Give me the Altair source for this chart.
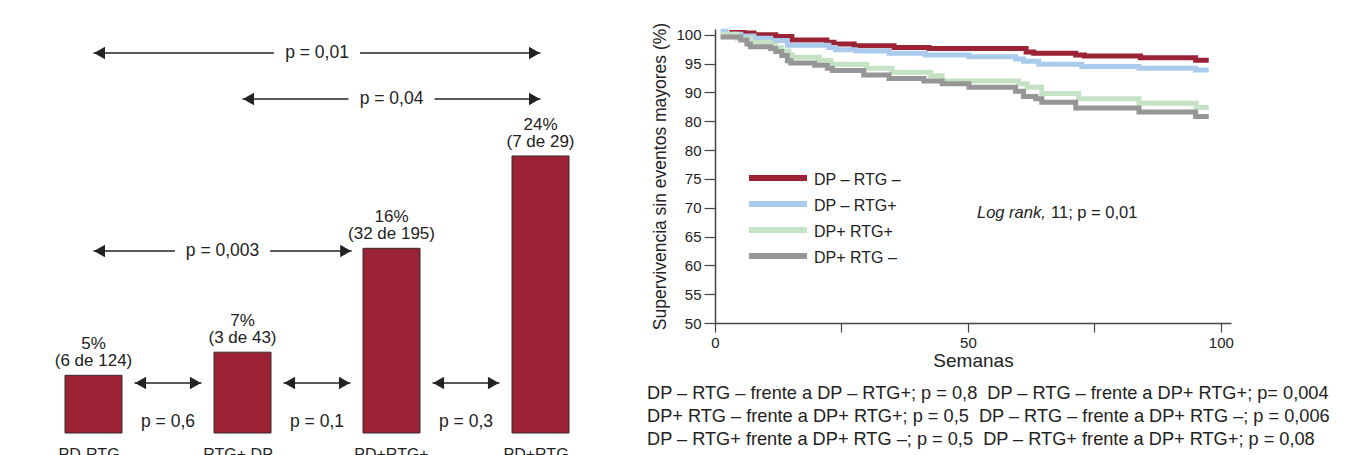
import altair as alt
import pandas as pd

# ---------------- data: left panel (bars) ----------------
categories = ["PD-RTG–", "RTG+ DP–", "PD+RTG+", "PD+RTG–"]
event_pct = [5, 7, 16, 24]
pct_labels = ["5%", "7%", "16%", "24%"]
count_labels = ["(6 de 124)", "(3 de 43)", "(32 de 195)", "(7 de 29)"]
neighbour_p = ["p = 0,6", "p = 0,1", "p = 0,3"]
long_from = ["PD-RTG–", "RTG+ DP–", "PD-RTG–"]
long_to = ["PD+RTG–", "PD+RTG–", "PD+RTG+"]
long_p = ["p = 0,01", "p = 0,04", "p = 0,003"]

# ---------------- data: right panel (survival curves) ----------------
series_names = ["DP – RTG –", "DP – RTG+", "DP+ RTG+", "DP+ RTG –"]
series_colors = ["#9b2335", "#aacbec", "#c5e3c4", "#969696"]

red_weeks = [2.8, 5.7, 7.7, 12.0, 15.2, 22.1, 23.5, 27.5, 35.4, 42.3, 61.5, 63.0, 71.3, 73.0, 84.1, 95.0, 97.6]
red_surv = [100.4, 100.3, 100.0, 99.7, 99.1, 98.7, 98.4, 98.1, 97.8, 97.6, 97.0, 96.8, 96.5, 96.3, 96.0, 95.6, 95.6]
blue_weeks = [1.1, 2.1, 5.1, 7.7, 11.0, 14.3, 22.5, 23.8, 27.8, 34.4, 41.6, 50.2, 59.4, 61.0, 64.0, 72.5, 83.8, 95.0, 97.6]
blue_surv = [100.6, 100.1, 99.8, 99.4, 99.0, 98.2, 97.8, 97.4, 97.2, 96.8, 96.5, 96.2, 95.8, 95.4, 94.9, 94.5, 94.2, 93.9, 93.9]
green_weeks = [1.1, 4.3, 7.1, 11.0, 12.0, 13.2, 14.6, 15.3, 20.6, 22.9, 30.0, 35.0, 42.6, 44.9, 60.0, 61.7, 64.6, 71.9, 83.8, 95.1, 97.6]
green_surv = [100.1, 99.4, 98.7, 98.2, 97.8, 97.2, 96.5, 96.1, 95.6, 94.9, 94.2, 93.5, 92.9, 92.0, 91.5, 90.9, 89.8, 88.9, 88.1, 87.4, 87.4]
gray_weeks = [1.1, 5.1, 6.3, 7.0, 11.0, 12.0, 13.2, 14.3, 15.0, 19.7, 22.2, 23.2, 29.4, 34.4, 41.3, 44.9, 50.2, 59.4, 61.0, 63.4, 64.6, 71.3, 83.8, 95.0, 97.6]
gray_surv = [99.6, 99.1, 98.4, 97.9, 97.6, 97.1, 96.4, 95.5, 95.1, 94.7, 94.2, 93.8, 93.0, 92.4, 92.0, 91.5, 90.9, 90.2, 89.3, 88.9, 88.3, 87.3, 86.6, 85.8, 85.8]

y_tick_values = [50, 55, 60, 65, 70, 75, 80, 85, 90, 95, 100]
y_tick_labels = ["50", "55", "60", "65", "70", "75", "80", "80", "90", "95", "100"]
x_tick_values = [0, 25, 50, 75, 100]
x_tick_labels = ["0", "", "50", "", "100"]

log_rank_italic = "Log rank,"
log_rank_rest = "11; p = 0,01"
comparison_lines = [
    "DP – RTG – frente a DP – RTG+; p = 0,8 \u00a0DP – RTG – frente a DP+ RTG+; p= 0,004",
    "DP+ RTG – frente a DP+ RTG+; p = 0,5 \u00a0DP – RTG – frente a DP+ RTG –; p = 0,006",
    "DP – RTG+ frente a DP+ RTG –; p = 0,5 \u00a0DP – RTG+ frente a DP+ RTG+; p = 0,08",
]

# ---------------- styling / layout ----------------
FONT = "Liberation Sans"
BAR_RED = "#9b2335"
INK = "#222222"
AX = "#444444"

LW, LH = 606, 404
UNIT = LW / 4.0            # pixels per category slot
BAR_W = 57
xs_left = alt.Scale(domain=[0, 4], nice=False, zero=False)
ys_left = alt.Scale(domain=[0, 35], nice=False)
PX_PER_PCT = LH / 35.0


def lvl(px_above_axis):
    return px_above_axis / PX_PER_PCT


idx = {c: i for i, c in enumerate(categories)}
bars_df = pd.DataFrame({
    "cat": categories,
    "pos": [i + 0.5 for i in range(len(categories))],
    "pct": event_pct,
    "pl": pct_labels,
    "cl": count_labels,
})

X_AX = alt.Axis(values=[0, 1, 2, 3, 4], labels=False, tickSize=12, tickWidth=1.2,
                domainWidth=1.2, domainColor=AX, tickColor=AX, grid=False, title=None)

bars = alt.Chart(bars_df).mark_bar(size=BAR_W, color=BAR_RED, stroke="#3a2a2c", strokeWidth=1).encode(
    x=alt.X("pos:Q", scale=xs_left, axis=X_AX),
    y=alt.Y("pct:Q", scale=ys_left, axis=None),
)
pct_text = alt.Chart(bars_df).mark_text(baseline="bottom", dy=-22, fontSize=17, color=INK).encode(
    x=alt.X("pos:Q", scale=xs_left, axis=None), y=alt.Y("pct:Q", scale=ys_left, axis=None), text="pl:N")
cnt_text = alt.Chart(bars_df).mark_text(baseline="bottom", dy=-5, fontSize=17, color=INK).encode(
    x=alt.X("pos:Q", scale=xs_left, axis=None), y=alt.Y("pct:Q", scale=ys_left, axis=None), text="cl:N")
cat_text = alt.Chart(bars_df).mark_text(baseline="middle", fontSize=16, color=INK).encode(
    x=alt.X("pos:Q", scale=xs_left, axis=None), y=alt.value(LH + 22), text="cat:N")

# arrows (annotation geometry derived from category positions)
seg_rows, lhead, rhead, ptxt = [], [], [], []
small_level = lvl(50)
small_txt_level = lvl(11)
half_small = 34 / UNIT
for b, lab in enumerate(neighbour_p, start=1):
    seg_rows.append({"x1": b - half_small, "x2": b + half_small, "y": small_level})
    lhead.append({"x": b - half_small, "y": small_level})
    rhead.append({"x": b + half_small, "y": small_level})
    ptxt.append({"x": b, "y": small_txt_level, "t": lab})

long_levels = [lvl(380), lvl(334), lvl(182)]
for a, bname, lab, lev in zip(long_from, long_to, long_p, long_levels):
    x1 = idx[a] + 0.5
    j = idx[bname]
    if lev < event_pct[j] + 0.5:
        x2 = j + 0.5 - (BAR_W / 2 + 12) / UNIT
    else:
        x2 = j + 0.5
    mid = (x1 + x2) / 2
    gap = (len(lab) * 4.6 + 7) / UNIT
    seg_rows.append({"x1": x1, "x2": mid - gap, "y": lev})
    seg_rows.append({"x1": mid + gap, "x2": x2, "y": lev})
    lhead.append({"x": x1, "y": lev})
    rhead.append({"x": x2, "y": lev})
    ptxt.append({"x": mid, "y": lev, "t": lab})

seg_df = pd.DataFrame(seg_rows)
segs = alt.Chart(seg_df).mark_rule(color=INK, strokeWidth=1.3).encode(
    x=alt.X("x1:Q", scale=xs_left, axis=None), x2="x2:Q", y=alt.Y("y:Q", scale=ys_left, axis=None))
lh = alt.Chart(pd.DataFrame(lhead)).mark_point(shape="triangle-left", filled=True, size=160, color=INK,
                                                 opacity=1, xOffset=6).encode(
    x=alt.X("x:Q", scale=xs_left, axis=None), y=alt.Y("y:Q", scale=ys_left, axis=None))
rh = alt.Chart(pd.DataFrame(rhead)).mark_point(shape="triangle-right", filled=True, size=160, color=INK,
                                                 opacity=1, xOffset=-6).encode(
    x=alt.X("x:Q", scale=xs_left, axis=None), y=alt.Y("y:Q", scale=ys_left, axis=None))
pt = alt.Chart(pd.DataFrame(ptxt)).mark_text(fontSize=17.5, color=INK, baseline="middle").encode(
    x=alt.X("x:Q", scale=xs_left, axis=None), y=alt.Y("y:Q", scale=ys_left, axis=None), text="t:N")

left = alt.layer(bars, pct_text, cnt_text, cat_text, segs, lh, rh, pt).properties(width=LW, height=LH)

# ---------------- right panel ----------------
RW, RH = 516, 294
xs_r = alt.Scale(domain=[0, 102], nice=False, zero=False)
ys_r = alt.Scale(domain=[50, 101], nice=False, zero=False)
color_scale = alt.Scale(domain=series_names, range=series_colors)

rows = []
for name, wk, sv in zip(series_names,
                        [red_weeks, blue_weeks, green_weeks, gray_weeks],
                        [red_surv, blue_surv, green_surv, gray_surv]):
    for w, s in zip(wk, sv):
        rows.append({"series": name, "week": w, "surv": s})
km_df = pd.DataFrame(rows)

y_expr = "".join(f"datum.value == {v} ? '{l}' : " for v, l in zip(y_tick_values, y_tick_labels)) + "''"
x_expr = "".join(f"datum.value == {v} ? '{l}' : " for v, l in zip(x_tick_values, x_tick_labels)) + "''"

Y_AX = alt.Axis(values=y_tick_values, labelExpr=y_expr, tickSize=11, labelPadding=3, labelFontSize=15,
                title="Supervivencia sin eventos mayores (%)", titleFontSize=17.5, titleFontWeight="normal",
                titlePadding=6, domainColor=AX, tickColor=AX, domainWidth=1.5, tickWidth=1.2,
                labelColor=INK, titleColor=INK, grid=False)
X_AX_R = alt.Axis(values=x_tick_values, labelExpr=x_expr, tickSize=9, labelPadding=3, labelFontSize=15,
                  title="Semanas", titleFontSize=19, titleFontWeight="normal", titlePadding=1,
                  domainColor=AX, tickColor=AX, domainWidth=1.5, tickWidth=1.2,
                  labelColor=INK, titleColor=INK, grid=False, labelFlush=False)

curves = alt.Chart(km_df).mark_line(interpolate="step-after", strokeWidth=5, strokeCap="butt").encode(
    x=alt.X("week:Q", scale=xs_r, axis=X_AX_R),
    y=alt.Y("surv:Q", scale=ys_r, axis=Y_AX),
    color=alt.Color("series:N", scale=color_scale, legend=None),
    detail="series:N",
)

leg_df = pd.DataFrame({"series": series_names,
                       "ly": [149 + 26 * i for i in range(len(series_names))]})
leg_lines = alt.Chart(leg_df).mark_rule(strokeWidth=6).encode(
    x=alt.value(34), x2=alt.value(92), y=alt.Y("ly:Q", scale=None),
    color=alt.Color("series:N", scale=color_scale, legend=None))
leg_text = alt.Chart(leg_df).mark_text(align="left", baseline="middle", dy=2, fontSize=16, color=INK).encode(
    x=alt.value(99), y=alt.Y("ly:Q", scale=None), text="series:N")

lr1 = alt.Chart(pd.DataFrame({"t": [log_rank_italic]})).mark_text(
    align="left", baseline="middle", fontSize=16.5, fontStyle="italic", color=INK).encode(
    x=alt.value(262), y=alt.value(184), text="t:N")
lr2 = alt.Chart(pd.DataFrame({"t": [log_rank_rest]})).mark_text(
    align="left", baseline="middle", fontSize=16.5, color=INK).encode(
    x=alt.value(336), y=alt.value(184), text="t:N")

cmp_df = pd.DataFrame({"t": comparison_lines, "ly": [365 + 23 * i for i in range(len(comparison_lines))]})
cmp_text = alt.Chart(cmp_df).mark_text(align="left", baseline="middle", fontSize=18.2, color=INK).encode(
    x=alt.value(-68), y=alt.Y("ly:Q", scale=None), text="t:N")

right = alt.layer(curves, leg_lines, leg_text, lr1, lr2, cmp_text).properties(width=RW, height=RH)

chart = alt.hconcat(left, right, spacing=27).properties(
    padding={"left": 6, "top": 13, "right": 5, "bottom": 0}
).configure(
    font=FONT, background="white"
).configure_view(stroke=None).configure_text(font=FONT).configure_axis(labelFont=FONT, titleFont=FONT)

chart.save("out.html", embed_options={"renderer": "svg", "actions": False})
